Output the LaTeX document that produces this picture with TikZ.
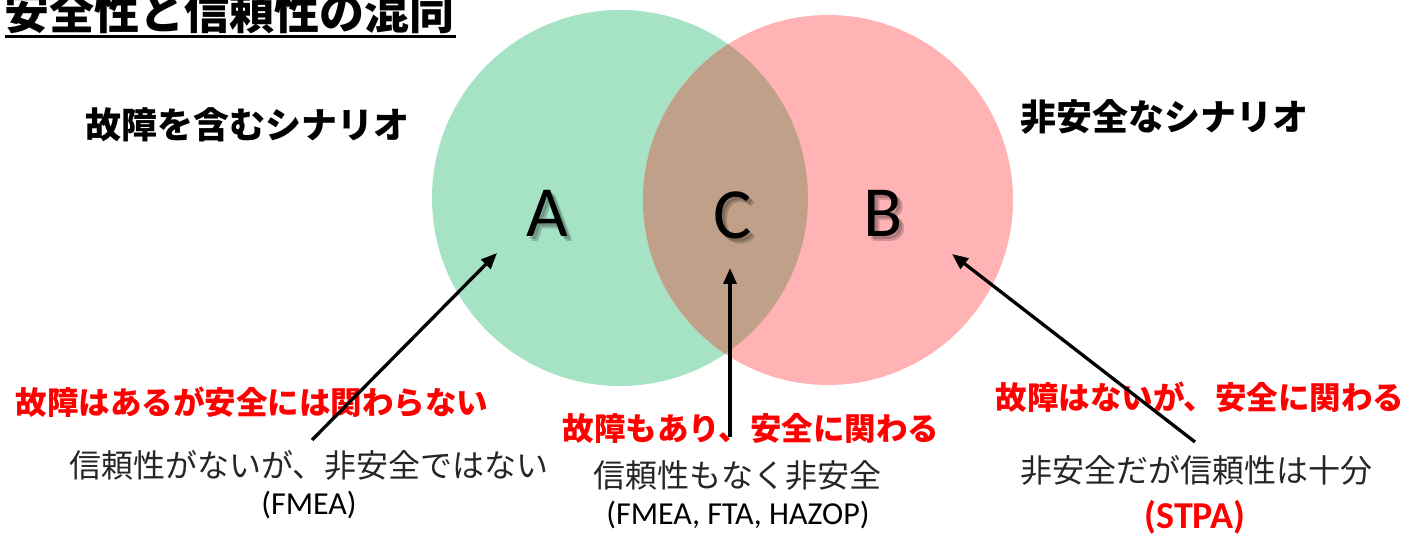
\documentclass[tikz,border=0pt]{standalone}
\usepackage{fontspec}
\setmainfont{Carlito}
\newfontfamily\jp{Noto Sans CJK JP}
\usetikzlibrary{arrows.meta}
\definecolor{greenc}{RGB}{166,226,196}
\definecolor{pinkc}{RGB}{255,179,181}
\definecolor{overlapc}{RGB}{192,160,136}
\definecolor{redtxt}{RGB}{255,0,0}
\begin{document}
\begin{tikzpicture}[x=1pt,y=-1pt,
  letter/.style={font=\fontsize{72}{80}\selectfont, inner sep=0pt},
  lshadow/.style={letter, text=black, text opacity=0.18},
  head/.style={font=\jp\bfseries\fontsize{36}{40}\selectfont, inner sep=0pt},
  redl/.style={font=\jp\bfseries\fontsize{31.5}{36}\selectfont, text=redtxt, inner sep=0pt},
  desc/.style={font=\jp\fontsize{32}{36}\selectfont, text=black!85, inner sep=0pt},
  latin/.style={font=\fontsize{32}{36}\selectfont, inner sep=0pt},
  arr/.style={-{Triangle[length=16pt,width=13pt]}, line width=3.3pt}]
\useasboundingbox (0,0) rectangle (1406,534);
% circles
\fill[greenc] (620,198) circle (188);
\fill[pinkc] (828,200) circle (185);
\begin{scope}
  \clip (620,198) circle (188);
  \fill[overlapc] (828,200) circle (185);
\end{scope}
% title
\node[font=\jp\bfseries\fontsize{45}{50}\selectfont, inner sep=0pt] (title) at (230,12) {安全性と信頼性の混同};
\draw[line width=3pt] (5,37) -- (456,37);
% headers
\node[head] (hl) at (247,125) {故障を含むシナリオ};
\node[head] (hr) at (1164,117) {非安全なシナリオ};
% letters with soft shadows
\node[lshadow] (as1) at (550,216) {A};
\node[lshadow] (as2) at (552,218) {A};
\node[lshadow] (cs1) at (736,218) {C};
\node[lshadow] (cs2) at (738,220) {C};
\node[lshadow] (bs1) at (886,216) {B};
\node[lshadow] (bs2) at (888,218) {B};
\node[letter] (a) at (547,213) {A};
\node[letter] (c) at (733,215) {C};
\node[letter] (b) at (883,213) {B};
% red labels
\node[redl] (rl) at (252,402) {故障はあるが安全には関わらない};
\node[redl] (rc) at (751,428) {故障もあり、安全に関わる};
\node[redl] (rr) at (1200,397) {故障はないが、安全に関わる};
% descriptions
\node[desc] (dl) at (309,465) {信頼性がないが、非安全ではない};
\node[latin] (ml) at (309,505) {(FMEA)};
\node[desc] (dc) at (737,475) {信頼性もなく非安全};
\node[latin] (mc) at (738,515) {(FMEA, FTA, HAZOP)};
\node[desc] (dr) at (1196,470) {非安全だが信頼性は十分};
\node[font=\bfseries\fontsize{38}{42}\selectfont, text=redtxt, inner sep=0pt] (mr) at (1195,517) {(STPA)};
% arrows
\coordinate (at) at (312,440);
\coordinate (ah) at (497,253);
\coordinate (ct) at (730,437);
\coordinate (ch) at (730,268);
\coordinate (bt) at (1195,442);
\coordinate (bh) at (952,254);
\draw[arr] (at) -- (ah);
\draw[arr] (ct) -- (ch);
\draw[arr] (bt) -- (bh);
\end{tikzpicture}
\end{document}
